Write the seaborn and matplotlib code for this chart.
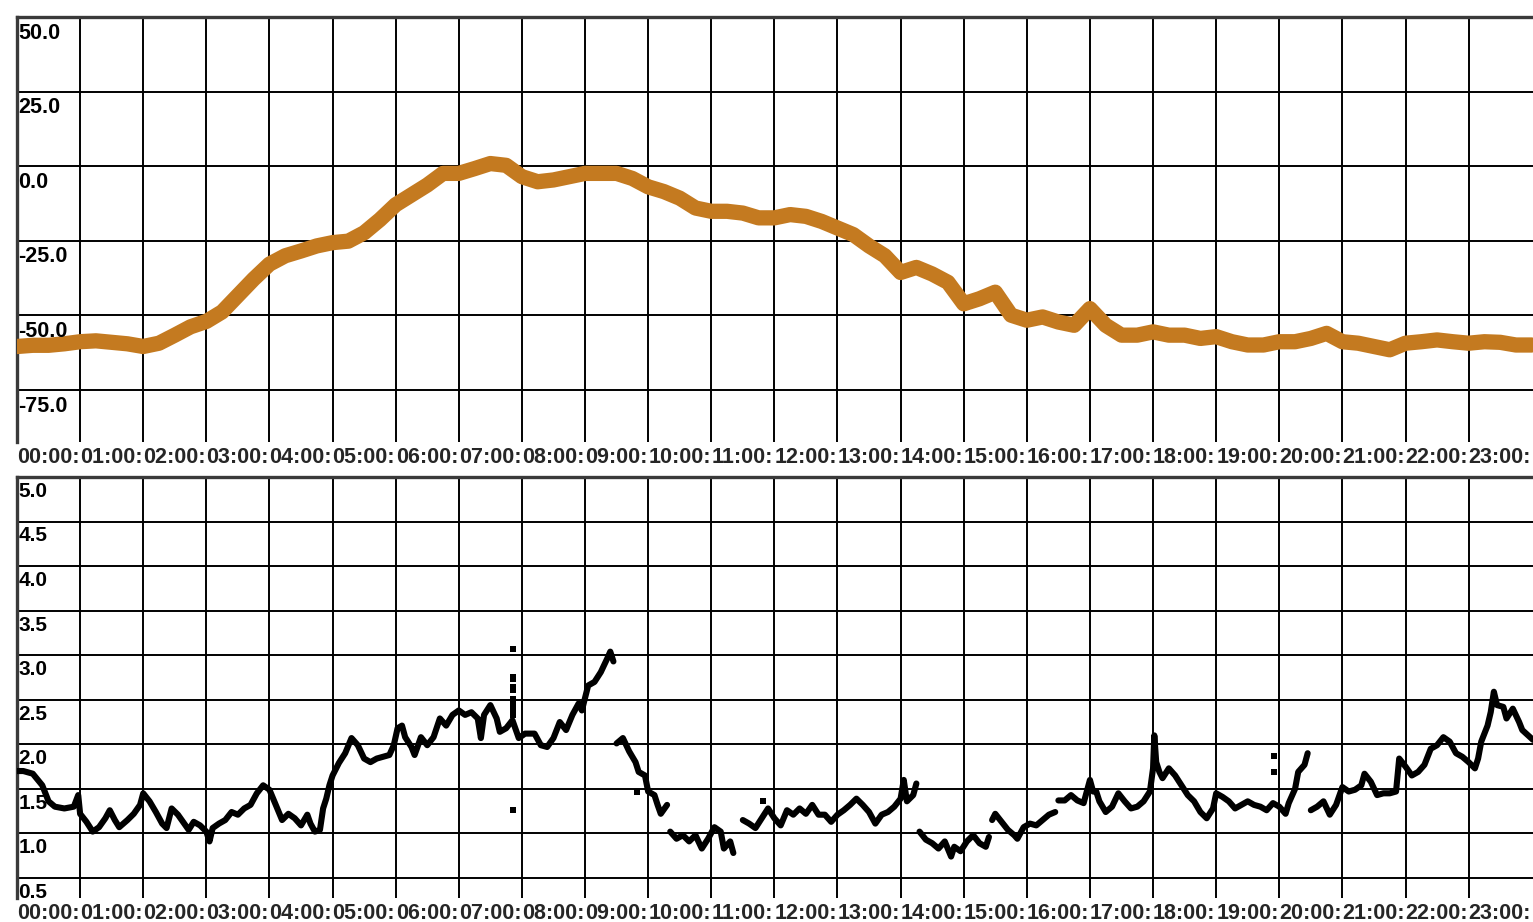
import numpy as np
import pandas as pd
import seaborn as sns
import matplotlib.pyplot as plt

# ---- data ----
hour_labels = [f"{h:02d}:00:" for h in range(24)]

# upper trace, one reading every 15 min (00:00 .. 24:00)
top_hours = np.arange(0, 24.01, 0.25)
top_values = [
    -60.4, -60.0, -60.0, -59.5, -58.8, -58.5, -59.0, -59.5,
    -60.4, -59.3, -56.6, -53.8, -52.0, -48.8, -43.3, -37.8,
    -32.8, -30.0, -28.4, -26.7, -25.6, -25.1, -22.3, -17.9,
    -12.9, -9.6, -6.3, -2.4, -2.4, -0.8, 0.9, 0.3,
    -3.5, -5.2, -4.6, -3.5, -2.4, -2.4, -2.4, -4.1,
    -6.9, -8.5, -10.7, -14.0, -15.1, -15.1, -15.7, -17.3,
    -17.3, -16.2, -16.8, -18.5, -20.7, -22.9, -26.7, -30.0,
    -35.6, -33.9, -36.1, -38.9, -46.1, -44.4, -42.2, -49.9,
    -51.6, -50.5, -52.2, -53.3, -47.7, -53.3, -56.6, -56.6,
    -55.5, -56.6, -56.6, -57.7, -57.1, -58.8, -59.9, -59.9,
    -58.8, -58.8, -57.7, -56.0, -58.8, -59.3, -60.4, -61.5,
    -59.3, -58.8, -58.2, -58.8, -59.3, -58.8, -59.0, -59.9,
    -59.9,
]
top_ticks = [50.0, 25.0, 0.0, -25.0, -50.0, -75.0]

# lower trace (hour, value), split into the pieces that are not joined
bot_hours = [
    0.0, 0.1, 0.25, 0.4, 0.5, 0.6, 0.75, 0.9, 0.97, 1.0, 1.1, 1.2, 1.3, 1.4,
    1.47, 1.55, 1.62, 1.75, 1.85, 1.95, 2.0, 2.1, 2.2, 2.3, 2.37, 2.45, 2.55,
    2.65, 2.72, 2.8, 2.9, 3.0, 3.05, 3.1, 3.2, 3.3, 3.4, 3.5, 3.6, 3.7, 3.8,
    3.9, 4.0, 4.1, 4.2, 4.3, 4.4, 4.5, 4.6, 4.65, 4.72, 4.8, 4.85, 4.9, 4.95,
    5.0, 5.1, 5.2, 5.3, 5.4, 5.5, 5.6, 5.7, 5.8, 5.9, 5.97, 6.03, 6.1, 6.15,
    6.25, 6.3, 6.4, 6.5, 6.6, 6.7, 6.8, 6.9, 7.0, 7.1, 7.2, 7.3, 7.35, 7.4,
    7.5, 7.6, 7.65, 7.75, 7.85, 7.95, 8.05, 8.2, 8.3, 8.4, 8.5, 8.6, 8.7,
    8.8, 8.9, 8.95, 9.05, 9.15, 9.25, 9.35, 9.4, 9.45,
    9.5, 9.6, 9.7, 9.8, 9.85, 9.95, 10.0, 10.1, 10.15, 10.2, 10.3,
    10.35, 10.45, 10.55, 10.65, 10.75, 10.85, 10.95, 11.05, 11.15, 11.2,
    11.3, 11.35,
    11.5, 11.6, 11.7, 11.8, 11.9, 12.0, 12.1, 12.2, 12.3, 12.4, 12.5, 12.6,
    12.7, 12.8, 12.9, 13.0, 13.1, 13.2, 13.3, 13.4, 13.5, 13.6, 13.7, 13.8,
    13.9, 14.0, 14.05, 14.1, 14.2, 14.25,
    14.3, 14.4, 14.5, 14.6, 14.7, 14.8, 14.85, 14.95, 15.05, 15.15, 15.25,
    15.35, 15.4,
    15.45, 15.5, 15.6, 15.7, 15.8, 15.85, 15.95, 16.05, 16.15, 16.25, 16.35,
    16.45,
    16.5, 16.6, 16.7, 16.8, 16.9, 17.0, 17.05, 17.1, 17.15, 17.25, 17.35,
    17.45, 17.55, 17.65, 17.75, 17.85, 17.95, 18.0, 18.02, 18.05, 18.1,
    18.15, 18.25, 18.35, 18.45, 18.55, 18.65, 18.75, 18.85, 18.95, 19.0,
    19.1, 19.2, 19.3, 19.4, 19.5, 19.6, 19.7, 19.8, 19.9, 20.0, 20.1, 20.15,
    20.25, 20.3, 20.4, 20.45,
    20.5, 20.6, 20.7, 20.8, 20.9, 21.0, 21.1, 21.2, 21.3, 21.35, 21.45,
    21.55, 21.65, 21.75, 21.85, 21.9, 22.0, 22.1, 22.2, 22.3, 22.4, 22.5,
    22.6, 22.7, 22.8, 22.9, 23.0, 23.1, 23.15, 23.2, 23.3, 23.35, 23.4,
    23.45, 23.55, 23.6, 23.7, 23.8, 23.85, 24.02,
]
bot_values = [
    1.70, 1.70, 1.67, 1.54, 1.36, 1.30, 1.28, 1.30, 1.43, 1.22, 1.13, 1.02,
    1.07, 1.17, 1.26, 1.15, 1.07, 1.15, 1.22, 1.32, 1.45, 1.36, 1.24, 1.11,
    1.06, 1.28, 1.21, 1.11, 1.04, 1.13, 1.09, 1.02, 0.91, 1.06, 1.11, 1.15,
    1.24, 1.21, 1.28, 1.32, 1.45, 1.54, 1.49, 1.32, 1.15, 1.22, 1.17, 1.09,
    1.21, 1.11, 1.02, 1.04, 1.28, 1.39, 1.54, 1.65, 1.79, 1.90, 2.07, 1.99,
    1.84, 1.80, 1.84, 1.86, 1.88, 1.99, 2.18, 2.21, 2.08, 1.97, 1.88, 2.08,
    1.99, 2.08, 2.29, 2.21, 2.33, 2.38, 2.33, 2.36, 2.29, 2.07, 2.33, 2.44,
    2.29, 2.14, 2.18, 2.27, 2.07, 2.12, 2.12, 1.99, 1.97, 2.07, 2.25, 2.16,
    2.33, 2.46, 2.38, 2.66, 2.70, 2.81, 2.96, 3.04, 2.93,
    2.01, 2.07, 1.92, 1.80, 1.69, 1.65, 1.47, 1.43, 1.32, 1.22, 1.32,
    1.02, 0.94, 0.98, 0.91, 0.98, 0.83, 0.94, 1.07, 1.02, 0.83, 0.91, 0.78,
    1.15, 1.11, 1.06, 1.17, 1.28, 1.17, 1.09, 1.26, 1.21, 1.28, 1.22, 1.32,
    1.21, 1.21, 1.13, 1.21, 1.26, 1.32, 1.39, 1.32, 1.24, 1.11, 1.21, 1.24,
    1.30, 1.39, 1.60, 1.36, 1.43, 1.56,
    1.02, 0.93, 0.89, 0.83, 0.91, 0.74, 0.85, 0.80, 0.91, 0.98, 0.89, 0.85,
    0.96,
    1.15, 1.22, 1.13, 1.04, 0.98, 0.94, 1.07, 1.11, 1.09, 1.15, 1.21, 1.24,
    1.37, 1.37, 1.43, 1.37, 1.34, 1.60, 1.47, 1.47, 1.36, 1.24, 1.30, 1.45,
    1.36, 1.28, 1.30, 1.36, 1.47, 1.73, 2.10, 1.80, 1.69, 1.62, 1.73, 1.65,
    1.54, 1.43, 1.36, 1.24, 1.17, 1.28, 1.45, 1.41, 1.36, 1.28, 1.32, 1.36,
    1.32, 1.30, 1.26, 1.34, 1.30, 1.22, 1.34, 1.50, 1.69, 1.77, 1.90,
    1.26, 1.30, 1.36, 1.21, 1.32, 1.52, 1.47, 1.49, 1.54, 1.67, 1.58, 1.43,
    1.45, 1.45, 1.47, 1.84, 1.75, 1.65, 1.69, 1.77, 1.95, 1.99, 2.08, 2.03,
    1.90, 1.86, 1.80, 1.73, 1.84, 2.03, 2.21, 2.36, 2.59, 2.44, 2.42, 2.29,
    2.40, 2.25, 2.16, 2.05,
]
# number of samples in each unbroken piece of the lower trace
piece_sizes = [105, 11, 12, 30, 13, 12, 47, 40]

# loose single samples (the dotted spike near 07:50 and a few strays)
dot_hours = [7.86, 7.86, 7.86, 7.86, 7.86, 7.86, 7.86, 7.86, 7.86, 7.86,
             9.82, 11.82, 19.91, 19.91]
dot_values = [3.07, 2.76, 2.73, 2.64, 2.61, 2.51, 2.46, 2.40, 2.33, 1.26,
              1.46, 1.36, 1.87, 1.69]
bot_ticks = [5.0, 4.5, 4.0, 3.5, 3.0, 2.5, 2.0, 1.5, 1.0, 0.5]

bot_piece = np.repeat(np.arange(len(piece_sizes)), piece_sizes)
bottom_df = pd.DataFrame({"hour": bot_hours, "value": bot_values, "piece": bot_piece})
dots_df = pd.DataFrame({"hour": dot_hours, "value": dot_values})

# ---- style ----
sns.set_style("white")
plt.rcParams["font.family"] = ["Liberation Sans", "DejaVu Sans"]

W, H = 1533, 922
fig = plt.figure(figsize=(W / 100, H / 100), dpi=100)


def px_box(left, top, right, bottom):
    return [left / W, 1 - bottom / H, (right - left) / W, (bottom - top) / H]


ax_top = fig.add_axes(px_box(17, 17, W, 442))
ax_bot = fig.add_axes(px_box(17, 477, W, 898))

sns.lineplot(x=top_hours, y=top_values, ax=ax_top, color="#c47a20",
             linewidth=11, zorder=3)

sns.lineplot(data=bottom_df, x="hour", y="value", units="piece",
             estimator=None, sort=False, ax=ax_bot, color="black",
             linewidth=4.4, zorder=3)
sns.scatterplot(data=dots_df, x="hour", y="value", ax=ax_bot, color="black",
                marker="s", s=16, linewidth=0, zorder=3)

ax_top.set_ylim(-92.4, 50)
ax_bot.set_ylim(0.275, 5.0)

# (axes, grid values, label size, label drop below its line, x label pad)
panels = [(ax_top, top_ticks, 15.5, -4, 3.5), (ax_bot, bot_ticks, 15, -3.5, 3.5)]
for ax, ticks, fsize, drop, pad in panels:
    ax.set_xlim(0, 24.02)
    ax.set_xticks(range(24))
    ax.set_xticklabels(hour_labels, ha="left", fontsize=15.5, fontweight="bold")
    ax.set_yticks(ticks)
    ax.tick_params(axis="y", length=0, labelleft=False)
    ax.tick_params(axis="x", length=0, pad=pad)
    ax.grid(True, color="black", linewidth=1.4)
    ax.set_axisbelow(True)
    ax.set_xlabel("")
    ax.set_ylabel("")
    for side in ["right", "bottom"]:
        ax.spines[side].set_visible(False)
    for side in ["left", "top"]:
        ax.spines[side].set_color("#3a3a3a")
        ax.spines[side].set_linewidth(2.4)
    # value labels sit inside the frame, just under their grid line
    for t in ticks:
        ax.annotate(f"{t:.1f}", xy=(0, t), xycoords=("axes fraction", "data"),
                    xytext=(1, drop), textcoords="offset points",
                    ha="left", va="top", fontsize=fsize, fontweight="bold",
                    color="black", zorder=4)

fig.savefig("out.png", dpi=100, facecolor="white")
